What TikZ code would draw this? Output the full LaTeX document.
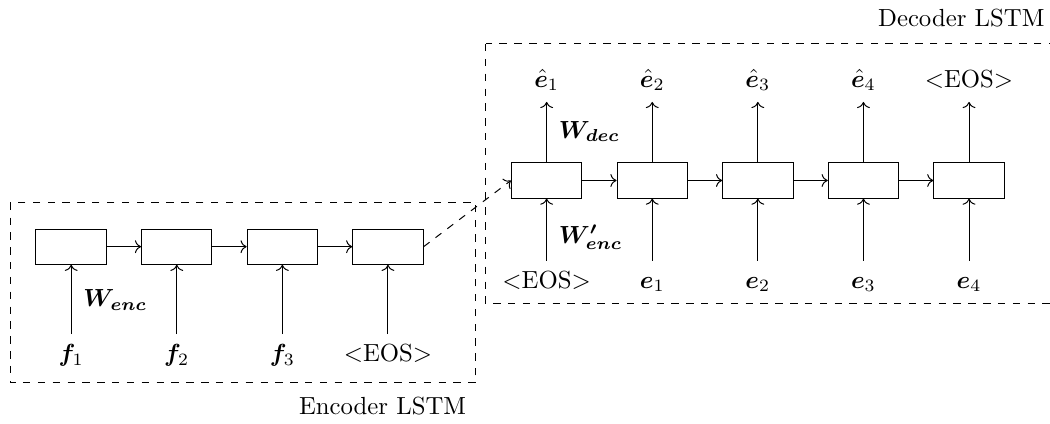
\documentclass[tikz,border=0pt]{standalone}
\usepackage{amsmath,amssymb}
\usepackage{bm}
\usetikzlibrary{arrows.meta,positioning}

\begin{document}
\begin{tikzpicture}[
    cell/.style={rectangle, draw, minimum width=1cm, minimum height=0.5cm, inner sep=0pt},
    lbl/.style={inner sep=4pt, text height=1.6ex, text depth=.4ex},
    wlbl/.style={anchor=base west, inner sep=0pt},
    arr/.style={->},
    frame/.style={draw, dashed}]

    \useasboundingbox (0,0) rectangle (14.915,-6.009);

    % Encoder cells
    \node[cell] (enc1) at (1.011,-3.504) {};
    \node[cell] (enc2) at (2.511,-3.504) {};
    \node[cell] (enc3) at (4.011,-3.504) {};
    \node[cell] (enc4) at (5.511,-3.504) {};

    % Encoder inputs
    \node[lbl] (f1) at (1.011,-5.047) {$\bm{f}_1$};
    \node[lbl] (f2) at (2.511,-5.047) {$\bm{f}_2$};
    \node[lbl] (f3) at (4.011,-5.047) {$\bm{f}_3$};
    \node[lbl] (eosin) at (5.511,-5.047) {$<$EOS$>$};
    \node[wlbl] (wenc) at (1.179,-4.357) {$\bm{W_{enc}}$};

    % Decoder cells
    \node[cell] (dec1) at (7.765,-2.564) {};
    \node[cell] (dec2) at (9.265,-2.564) {};
    \node[cell] (dec3) at (10.765,-2.564) {};
    \node[cell] (dec4) at (12.265,-2.564) {};
    \node[cell] (dec5) at (13.765,-2.564) {};

    % Decoder inputs
    \node[lbl] (eosdec) at (7.765,-4.004) {$<$EOS$>$};
    \node[lbl] (e1) at (9.265,-4.004) {$\bm{e}_1$};
    \node[lbl] (e2) at (10.765,-4.004) {$\bm{e}_2$};
    \node[lbl] (e3) at (12.265,-4.004) {$\bm{e}_3$};
    \node[lbl] (e4) at (13.765,-4.004) {$\bm{e}_4$};
    \node[wlbl] (wencp) at (7.930,-3.456) {$\bm{W'_{enc}}$};

    % Decoder outputs
    \node[lbl] (h1) at (7.765,-1.149) {$\hat{\bm{e}}_1$};
    \node[lbl] (h2) at (9.265,-1.149) {$\hat{\bm{e}}_2$};
    \node[lbl] (h3) at (10.765,-1.149) {$\hat{\bm{e}}_3$};
    \node[lbl] (h4) at (12.265,-1.149) {$\hat{\bm{e}}_4$};
    \node[lbl] (eosout) at (13.765,-1.149) {$<$EOS$>$};
    \node[wlbl] (wdec) at (7.930,-1.964) {$\bm{W_{dec}}$};

    % Frames
    \draw[frame] (0.142,-2.879) rectangle (6.761,-5.436);
    \draw[frame] (6.903,-0.625) rectangle (14.957,-4.318);
    \node[anchor=base east, inner sep=0pt] (enclbl) at (6.629,-5.895) {Encoder LSTM};
    \node[anchor=base east, inner sep=0pt] (declbl) at (14.844,-0.379) {Decoder LSTM};

    % Arrows
    \draw[arr] (enc1) -- (enc2);
    \draw[arr] (enc2) -- (enc3);
    \draw[arr] (enc3) -- (enc4);
    \draw[arr] (f1) -- (enc1);
    \draw[arr] (f2) -- (enc2);
    \draw[arr] (f3) -- (enc3);
    \draw[arr] (eosin) -- (enc4);
    \draw[arr, dashed] (enc4.east) -- (dec1.west);
    \draw[arr] (dec1) -- (dec2);
    \draw[arr] (dec2) -- (dec3);
    \draw[arr] (dec3) -- (dec4);
    \draw[arr] (dec4) -- (dec5);
    \draw[arr] (eosdec) -- (dec1);
    \draw[arr] (e1) -- (dec2);
    \draw[arr] (e2) -- (dec3);
    \draw[arr] (e3) -- (dec4);
    \draw[arr] (e4) -- (dec5);
    \draw[arr] (dec1) -- (h1);
    \draw[arr] (dec2) -- (h2);
    \draw[arr] (dec3) -- (h3);
    \draw[arr] (dec4) -- (h4);
    \draw[arr] (dec5) -- (eosout);
\end{tikzpicture}
\end{document}
